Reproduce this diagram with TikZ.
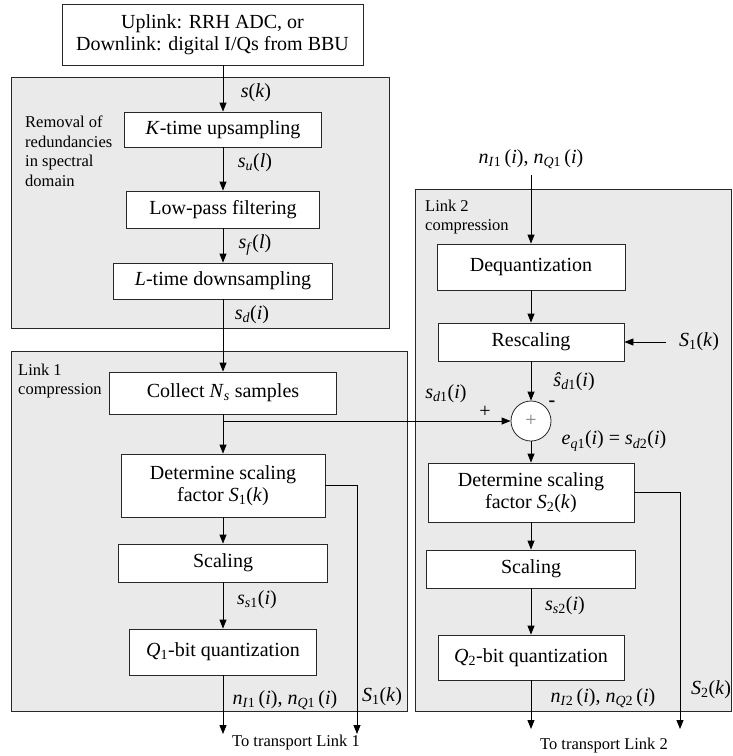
\documentclass[tikz,border=0pt]{standalone}
\usepackage{fontspec}
\setmainfont{Liberation Serif}
\usetikzlibrary{arrows.meta}
\definecolor{panelgray}{RGB}{234,234,234}
\definecolor{edgecol}{RGB}{40,40,40}
\newcommand\vi[1]{\textit{#1}}
\newcommand\sbs[1]{\textsubscript{#1}}
\begin{document}
\begin{tikzpicture}[x=1pt,y=-1pt,
  panel/.style={draw=edgecol, fill=panelgray, line width=0.8pt, inner sep=0pt, anchor=north west},
  box/.style={draw=edgecol, fill=white, line width=0.8pt, inner sep=0pt, align=center, font=\fontsize{20}{22}\selectfont},
  lbl/.style={font=\fontsize{20}{22}\selectfont, inner sep=0pt},
  small/.style={font=\fontsize{16.5}{19.5}\selectfont, inner sep=0pt, align=left},
  arr/.style={-{Triangle[length=9pt,width=7pt]}, line width=0.8pt, draw=black},
  ln/.style={line width=0.8pt, draw=black}]
\useasboundingbox (0,0) rectangle (732,756);
\fill[white] (0,0) rectangle (732,756);
% panels
\node[panel, minimum width=378pt, minimum height=251pt] (p1) at (11,77) {};
\node[panel, minimum width=396pt, minimum height=360pt] (p2) at (11,351) {};
\node[panel, minimum width=316pt, minimum height=522pt] (p3) at (415,189) {};
% boxes
\node[box, minimum width=301pt, minimum height=61pt] (src) at (212.5,34.5) {Uplink: RRH ADC, or\\Downlink: digital I/Qs from BBU};
\node[box, minimum width=197pt, minimum height=35pt] (K) at (223,129.5) {\vi{K}-time upsampling};
\node[box, minimum width=193pt, minimum height=37pt] (LP) at (223,209.5) {Low-pass filtering};
\node[box, minimum width=219pt, minimum height=36pt] (LD) at (223,281) {\vi{L}-time downsampling};
\node[box, minimum width=227pt, minimum height=42pt] (CO) at (223,393) {Collect \vi{N}\sbs{\vi{s}} samples};
\node[box, minimum width=204pt, minimum height=63pt] (D1) at (223,485.5) {Determine scaling\\factor \vi{S}\sbs{1}(\vi{k})};
\node[box, minimum width=209pt, minimum height=38pt] (SC1) at (223,563) {Scaling};
\node[box, minimum width=187pt, minimum height=46pt] (Q1) at (223,652) {\vi{Q}\sbs{1}-bit quantization};
\node[box, minimum width=188pt, minimum height=46pt] (DQ) at (531,267) {Dequantization};
\node[box, minimum width=186pt, minimum height=38pt] (RS) at (531,342) {Rescaling};
\node[circle, draw=edgecol, fill=white, line width=0.8pt, minimum size=40pt, inner sep=0pt, font=\fontsize{20}{22}\selectfont] (sum) at (531,421) {\textcolor{gray}{+}};
\node[box, minimum width=206pt, minimum height=59pt] (D2) at (531,492.5) {Determine scaling\\factor \vi{S}\sbs{2}(\vi{k})};
\node[box, minimum width=209pt, minimum height=38pt] (SC2) at (531,569) {Scaling};
\node[box, minimum width=186pt, minimum height=45pt] (Q2) at (531,657.5) {\vi{Q}\sbs{2}-bit quantization};
% coordinates
\coordinate (br) at (223,421);
\coordinate (o1) at (223,734);
\coordinate (s1t) at (357,734);
\coordinate (in2) at (531,175);
\coordinate (s1in) at (666,342);
\coordinate (o2) at (531,729);
\coordinate (s2t) at (680,729);
% connectors
\draw[arr] (src.south -| K.north) -- (K.north);
\draw[arr] (K) -- (LP);
\draw[arr] (LP) -- (LD);
\draw[arr] (LD) -- (CO);
\draw[ln] (CO.south) -- (br);
\draw[arr] (br) -- (D1.north);
\draw[arr] (br) -- (sum.west);
\draw[arr] (D1) -- (SC1);
\draw[arr] (SC1) -- (Q1);
\draw[arr] (Q1) -- (o1);
\draw[arr] (D1.east) -| (s1t);
\draw[arr] (in2) -- (DQ.north);
\draw[arr] (DQ) -- (RS);
\draw[arr] (s1in) -- (RS.east);
\draw[arr] (RS) -- (sum);
\draw[arr] (sum) -- (D2);
\draw[arr] (D2) -- (SC2);
\draw[arr] (SC2) -- (Q2);
\draw[arr] (Q2) -- (o2);
\draw[arr] (D2.east) -| (s2t);
% labels
\node[lbl] (lsk) at (256,93) {\vi{s}(\vi{k})};
\node[lbl] (lsu) at (255,163) {\vi{s}\sbs{\vi{u}}(\vi{l})};
\node[lbl] (lsf) at (255,245) {\vi{s}\sbs{\vi{f}}(\vi{l})};
\node[lbl] (lsd) at (252,315) {\vi{s}\sbs{\vi{d}}(\vi{i})};
\node[lbl] (lnin) at (531,159) {\vi{n}\sbs{\vi{I}1}\,(\vi{i}), \vi{n}\sbs{\vi{Q}1}\,(\vi{i})};
\node[lbl] (lshat) at (574,382) {\vi{ŝ}\sbs{\vi{d}1}(\vi{i})};
\node[lbl] (lminus) at (552,404) {\textbf{-}};
\node[lbl] (lsd1) at (446,394) {\vi{s}\sbs{\vi{d}1}(\vi{i})};
\node[lbl] (lplus) at (485,412) {+};
\node[lbl] (leq) at (614,441) {\vi{e}\sbs{\vi{q}1}(\vi{i}) = \vi{s}\sbs{\vi{d}2}(\vi{i})};
\node[lbl] (ls1r) at (699,342) {\vi{S}\sbs{1}(\vi{k})};
\node[lbl] (lss1) at (257,600) {\vi{s}\sbs{\vi{s}1}(\vi{i})};
\node[lbl] (lno1) at (285,700) {\vi{n}\sbs{\vi{I}1}\,(\vi{i}), \vi{n}\sbs{\vi{Q}1}\,(\vi{i})};
\node[lbl] (ls1l) at (382,697) {\vi{S}\sbs{1}(\vi{k})};
\node[lbl] (lss2) at (565,606) {\vi{s}\sbs{\vi{s}2}(\vi{i})};
\node[lbl] (lno2) at (603,698) {\vi{n}\sbs{\vi{I}2}\,(\vi{i}), \vi{n}\sbs{\vi{Q}2}\,(\vi{i})};
\node[lbl] (ls2) at (711,690) {\vi{S}\sbs{2}(\vi{k})};
\node[small] (to1) at (296,743) {To transport Link 1};
\node[small] (to2) at (604,746) {To transport Link 2};
\node[small, anchor=west] (rem) at (25,151.5) {Removal of\\redundancies\\in spectral\\domain};
\node[small, anchor=west] (lk1) at (18,381) {Link 1\\compression};
\node[small, anchor=west] (lk2) at (425,217) {Link 2\\compression};
\end{tikzpicture}
\end{document}
